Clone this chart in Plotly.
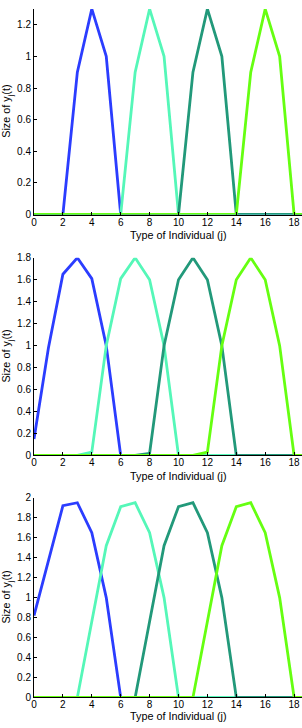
import plotly.graph_objects as go

x_types = list(range(20))

# Panel 1
p1_blue  = [0, 0, 0, 0.9, 1.3, 1.0, 0, 0, 0, 0, 0, 0, 0, 0, 0, 0, 0, 0, 0, 0]
p1_aqua  = [0, 0, 0, 0, 0, 0, 0, 0.9, 1.3, 1.0, 0, 0, 0, 0, 0, 0, 0, 0, 0, 0]
p1_teal  = [0, 0, 0, 0, 0, 0, 0, 0, 0, 0, 0, 0.9, 1.3, 1.0, 0, 0, 0, 0, 0, 0]
p1_green = [0, 0, 0, 0, 0, 0, 0, 0, 0, 0, 0, 0, 0, 0, 0, 0.9, 1.3, 1.0, 0, 0]

# Panel 2
p2_blue  = [0.15, 0.98, 1.65, 1.8, 1.61, 1.0, 0, 0, 0, 0, 0, 0, 0, 0, 0, 0, 0, 0, 0, 0]
p2_aqua  = [0, 0, 0, 0, 0.03, 1.0, 1.61, 1.8, 1.6, 1.0, 0, 0, 0, 0, 0, 0, 0, 0, 0, 0]
p2_teal  = [0, 0, 0, 0, 0, 0, 0, 0, 0.02, 1.0, 1.6, 1.8, 1.6, 1.0, 0, 0, 0, 0, 0, 0]
p2_green = [0, 0, 0, 0, 0, 0, 0, 0, 0, 0, 0, 0, 0.03, 1.0, 1.6, 1.8, 1.6, 1.0, 0, 0]

# Panel 3
p3_blue  = [0.82, 1.37, 1.92, 1.95, 1.65, 1.0, 0, 0, 0, 0, 0, 0, 0, 0, 0, 0, 0, 0, 0, 0]
p3_aqua  = [0, 0, 0, 0, 0.76, 1.52, 1.91, 1.95, 1.65, 1.0, 0, 0, 0, 0, 0, 0, 0, 0, 0, 0]
p3_teal  = [0, 0, 0, 0, 0, 0, 0, 0, 0.76, 1.52, 1.91, 1.95, 1.65, 1.0, 0, 0, 0, 0, 0, 0]
p3_green = [0, 0, 0, 0, 0, 0, 0, 0, 0, 0, 0, 0, 0.76, 1.52, 1.91, 1.95, 1.65, 1.0, 0, 0]

y_max = [1.3, 1.8, 2.0]
x_tickvals = [0, 2, 4, 6, 8, 10, 12, 14, 16, 18]
x_title = "Type of Individual (j)"
y_title = "Size of y<sub>j</sub>(t)"

colors = ["#2b3dff", "#55f7b8", "#22997a", "#66ff11"]
panels = [
    [p1_blue, p1_aqua, p1_teal, p1_green],
    [p2_blue, p2_aqua, p2_teal, p2_green],
    [p3_blue, p3_aqua, p3_teal, p3_green],
]

H = 728.0
L = 34.0
W = 302.0
pix = [(3, 212), (256, 457), (500, 703)]
xtitle_y = [233, 478, 722]

fig = go.Figure()
font = dict(family="Liberation Sans, Arial, sans-serif", size=10, color="black")
tfont = dict(family="Liberation Sans, Arial, sans-serif", size=10.8, color="black")

for i, series in enumerate(panels):
    n = "" if i == 0 else str(i + 1)
    for s, c in zip(series, colors):
        fig.add_trace(go.Scatter(x=x_types, y=s, mode="lines",
                                 line=dict(color=c, width=2.8),
                                 xaxis="x" + n, yaxis="y" + n,
                                 showlegend=False, hoverinfo="skip"))
    top, bot = pix[i]
    fig.layout["xaxis" + n] = dict(
        domain=[0, 1], anchor="y" + n, range=[0, (W - L) / 14.45],
        tickvals=x_tickvals,
        showgrid=False, zeroline=False, showline=True, linecolor="black",
        linewidth=1, ticks="inside", ticklen=3, tickcolor="black",
        tickfont=font, ticklabelstandoff=-2,
    )
    fig.layout["yaxis" + n] = dict(
        domain=[1 - bot / H, 1 - top / H], anchor="x" + n,
        range=[0, y_max[i]], dtick=0.2, tick0=0,
        showgrid=False, zeroline=False, showline=True, linecolor="black",
        linewidth=1, ticks="inside", ticklen=3, tickcolor="black",
        tickfont=font,
    )
    fig.add_annotation(text=x_title, xref="x" + n, x=10, yref="paper",
                       y=1 - xtitle_y[i] / H, yanchor="middle", xanchor="center",
                       showarrow=False, font=tfont)
    fig.add_annotation(text=y_title, xref="paper", x=(7 - L) / (W - L),
                       yref="paper", y=1 - (top + bot) / 2 / H,
                       xanchor="center", yanchor="middle", textangle=-90,
                       showarrow=False, font=tfont)

fig.update_layout(
    width=302, height=728,
    margin=dict(l=34, r=0, t=0, b=0),
    paper_bgcolor="white", plot_bgcolor="white",
    font=font,
)

fig.write_html("out.html", config={"displayModeBar": False},
               post_script="document.body.style.margin='0';document.body.style.overflow='hidden';")
